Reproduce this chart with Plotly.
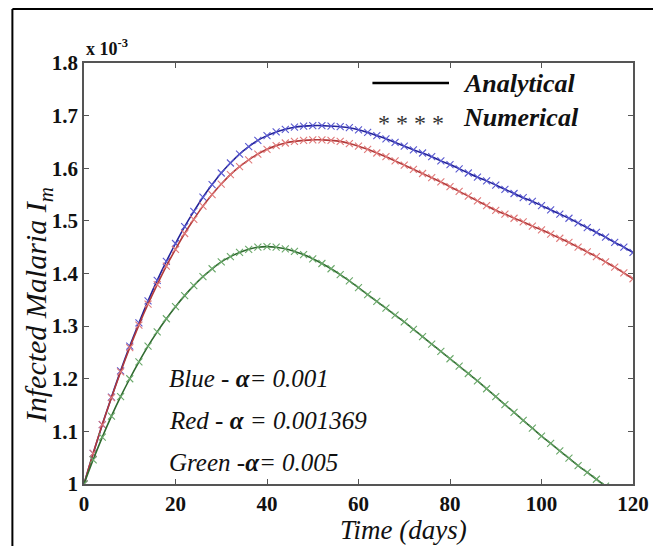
import plotly.graph_objects as go

# Time (days), sampled every 2 days
time_days = list(range(0, 121, 2))

# Infected malaria I_m (x 10^-3)
blue_alpha_0001 = [1.000, 1.058, 1.113, 1.165, 1.215, 1.262, 1.306, 1.348, 1.387, 1.423,
                   1.457, 1.489, 1.518, 1.545, 1.569, 1.591, 1.610, 1.627, 1.641, 1.653,
                   1.662, 1.669, 1.674, 1.678, 1.680, 1.681, 1.681, 1.680, 1.679, 1.677,
                   1.673, 1.668, 1.662, 1.656, 1.649, 1.642, 1.635, 1.629, 1.622, 1.614,
                   1.607, 1.599, 1.591, 1.583, 1.576, 1.568, 1.560, 1.552, 1.544, 1.537,
                   1.529, 1.521, 1.513, 1.505, 1.496, 1.487, 1.478, 1.469, 1.459, 1.450,
                   1.440]
red_alpha_001369 = [1.000, 1.058, 1.113, 1.164, 1.213, 1.259, 1.302, 1.342, 1.379, 1.414,
                    1.446, 1.476, 1.503, 1.528, 1.550, 1.570, 1.588, 1.603, 1.616, 1.627,
                    1.636, 1.643, 1.648, 1.651, 1.653, 1.654, 1.654, 1.653, 1.651, 1.647,
                    1.642, 1.636, 1.629, 1.622, 1.614, 1.606, 1.598, 1.590, 1.582, 1.574,
                    1.565, 1.556, 1.547, 1.538, 1.529, 1.520, 1.513, 1.505, 1.498, 1.490,
                    1.483, 1.475, 1.467, 1.459, 1.450, 1.441, 1.432, 1.422, 1.412, 1.401,
                    1.390]
green_alpha_0005 = [1.000, 1.046, 1.089, 1.129, 1.166, 1.200, 1.232, 1.262, 1.289, 1.314,
                    1.337, 1.358, 1.377, 1.394, 1.409, 1.422, 1.432, 1.440, 1.446, 1.450,
                    1.451, 1.450, 1.447, 1.442, 1.436, 1.428, 1.419, 1.409, 1.398, 1.386,
                    1.373, 1.360, 1.347, 1.334, 1.321, 1.308, 1.294, 1.280, 1.266, 1.252,
                    1.238, 1.224, 1.210, 1.196, 1.181, 1.166, 1.151, 1.136, 1.121, 1.106,
                    1.091, 1.077, 1.063, 1.049, 1.035, 1.022, 1.009, 0.996]

x_ticks = [0, 20, 40, 60, 80, 100, 120]
y_ticks = [1.0, 1.1, 1.2, 1.3, 1.4, 1.5, 1.6, 1.7, 1.8]
y_tick_text = ["1", "1.1", "1.2", "1.3", "1.4", "1.5", "1.6", "1.7", "1.8"]

series = [
    (blue_alpha_0001, "#23239a", "#5a5ad0"),
    (red_alpha_001369, "#b23a3a", "#e07a7a"),
    (green_alpha_0005, "#2f6a2f", "#6aa86a"),
]

FONT = "Liberation Serif, Times New Roman, serif"
OFF = 8                      # page body margin
WIN_W, WIN_H = 661, 546
W, H = WIN_W - OFF, WIN_H - OFF
L, R, T, B = 84, 636, 63, 484   # plot box in window pixels


def px(x):
    return (x - L) / (R - L)


def py(y):
    return (B - y) / (B - T)


fig = go.Figure()
for vals, lc, mc in series:
    t = time_days[:len(vals)]
    fig.add_trace(go.Scatter(x=t, y=vals, mode="lines",
                             line=dict(color=lc, width=1.6, shape="spline"),
                             showlegend=False, hoverinfo="skip"))
    fig.add_trace(go.Scatter(x=t, y=vals, mode="markers",
                             marker=dict(symbol="x-thin", size=7, color=mc,
                                         line=dict(color=mc, width=1.1)),
                             showlegend=False, hoverinfo="skip"))

axis_common = dict(showgrid=False, zeroline=False, showline=True, linecolor="#555555",
                   linewidth=1.5, mirror="ticks", ticks="inside", ticklen=5,
                   tickcolor="#555555", tickwidth=1,
                   tickfont=dict(family=FONT, size=21, color="#111111"))

fig.update_layout(
    width=W, height=H,
    margin=dict(l=L - OFF, r=WIN_W - R, t=T - OFF, b=WIN_H - B),
    paper_bgcolor="white", plot_bgcolor="white",
    xaxis=dict(range=[0, 120], tickvals=x_ticks,
               ticktext=["<b>%d</b>" % v for v in x_ticks], **axis_common),
    yaxis=dict(range=[1.0, 1.8], tickvals=y_ticks,
               ticktext=["<b>%s</b>" % s for s in y_tick_text], **axis_common),
)


def note(x, y, text, size, xanchor="center", angle=0, color="#111"):
    return dict(x=px(x), y=py(y), xref="paper", yref="paper", showarrow=False,
                xanchor=xanchor, yanchor="middle", textangle=angle, text=text,
                font=dict(family=FONT, size=size, color=color))


ann = [
    note(405, 530, "<i>Time (days)</i>", 27),
    note(38, 305, "<i>Infected Malaria I<sub>m</sub></i>", 30, angle=-90),
    note(84, 47, "<b>x 10<sup>-3</sup></b>", 18, xanchor="left"),
    note(463, 83, "<b><i>Analytical</i></b>", 26, xanchor="left"),
    note(463, 117, "<b><i>Numerical</i></b>", 26, xanchor="left"),
    note(413, 123, "* * * *", 24, color="#333"),
]
labels = [("Blue - <b>α</b>= 0.001", 378), ("Red - <b>α</b> = 0.001369", 420),
          ("Green -<b>α</b>= 0.005", 462)]
for txt, yy in labels:
    ann.append(note(167, yy, "<i>" + txt + "</i>", 25, xanchor="left"))
fig.update_layout(annotations=ann)

shapes = [
    dict(type="line", xref="paper", yref="paper", x0=px(374), x1=px(451),
         y0=py(83), y1=py(83), line=dict(color="black", width=2.5)),
    dict(type="line", xref="paper", yref="paper", x0=px(12), x1=px(661),
         y0=py(9), y1=py(9), line=dict(color="black", width=2)),
    dict(type="line", xref="paper", yref="paper", x0=px(12), x1=px(12),
         y0=py(9), y1=py(546), line=dict(color="black", width=2)),
]
fig.update_layout(shapes=shapes)

fig.write_html("out.html")
